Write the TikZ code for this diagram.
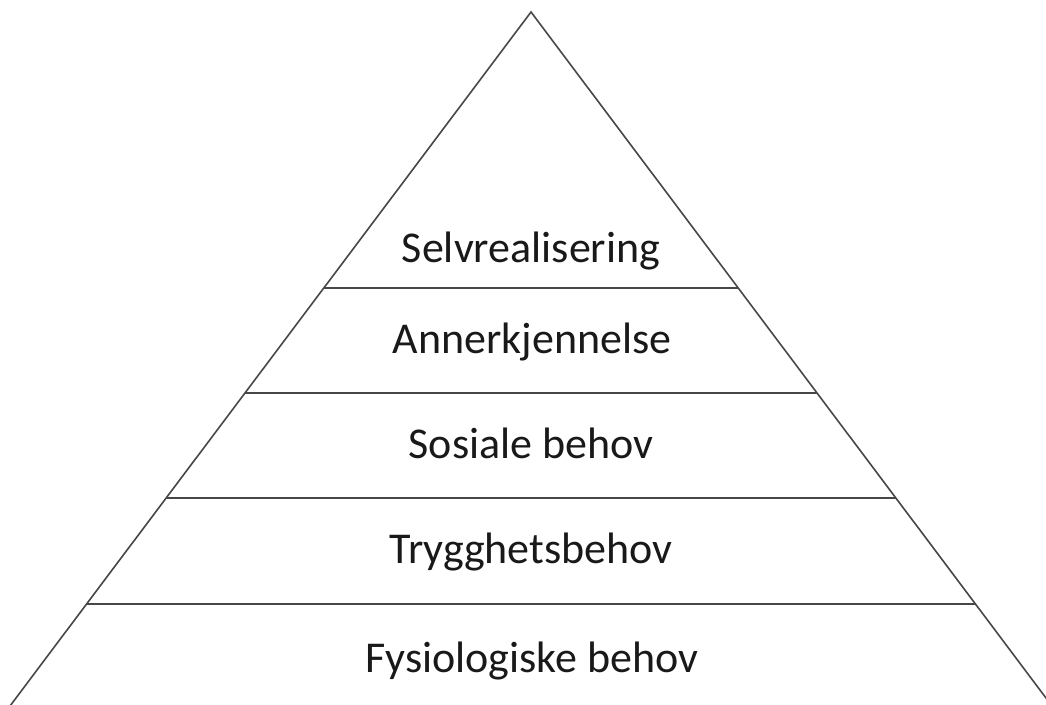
\documentclass[tikz,border=0pt]{standalone}
\usepackage{fontspec}
\setmainfont{Carlito}
\begin{document}
\begin{tikzpicture}[x=1pt,y=-1pt,
  edge/.style={draw=black!72,line width=1.6pt},
  lbl/.style={anchor=base,inner sep=0pt,font=\fontsize{44}{52}\selectfont,text=black!90}]
\useasboundingbox (0,0) rectangle (1046,704);
\clip (0,0) rectangle (1046,704);
\coordinate (apex) at (531,12);
\coordinate (bl) at (10,706);
\coordinate (br) at (1052,706);
\draw[edge,line join=miter] (bl) -- (apex) -- (br);
\coordinate (l1a) at (324,288); \coordinate (l1b) at (738,288);
\coordinate (l2a) at (245.25,393); \coordinate (l2b) at (816.75,393);
\coordinate (l3a) at (166.5,498); \coordinate (l3b) at (895.5,498);
\coordinate (l4a) at (87,604); \coordinate (l4b) at (975,604);
\draw[edge] (l1a) -- (l1b);
\draw[edge] (l2a) -- (l2b);
\draw[edge] (l3a) -- (l3b);
\draw[edge] (l4a) -- (l4b);
\node[lbl] (t1) at (531,262) {Selvrealisering};
\node[lbl] (t2) at (532,353) {Annerkjennelse};
\node[lbl] (t3) at (531,458) {Sosiale behov};
\node[lbl] (t4) at (531,563) {Trygghetsbehov};
\node[lbl] (t5) at (532,672) {Fysiologiske behov};
\end{tikzpicture}
\end{document}
